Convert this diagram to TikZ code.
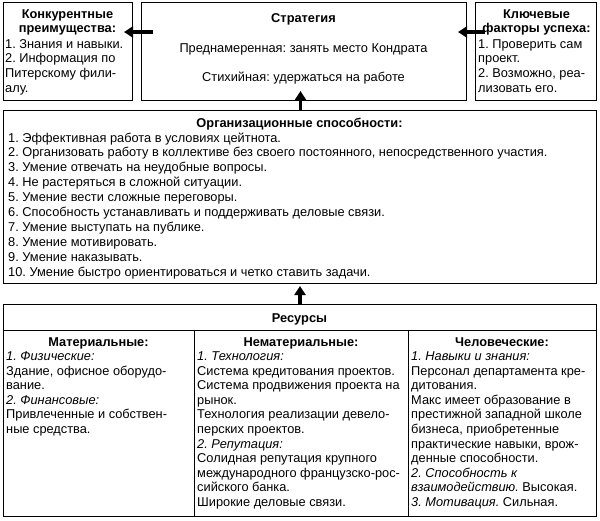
\documentclass[tikz,border=0pt]{standalone}
\usepackage{fontspec}
\setmainfont{Liberation Sans}
\usetikzlibrary{arrows.meta,calc}
\frenchspacing
\begin{document}
\begin{tikzpicture}[x=1pt,y=-1pt,
  box/.style={draw=black,line width=1pt,inner sep=0pt,anchor=north west},
  txt/.style={inner sep=0pt,anchor=base west},
  ttl/.style={inner sep=0pt,anchor=base,font=\fontsize{12.8}{14.9}\selectfont\bfseries},
  fat/.style={line width=3.8pt,-{Triangle[length=9pt,width=11pt]}},
  font=\fontsize{12.8}{14.9}\selectfont]
\path[use as bounding box,fill=white] (0,0) rectangle (600,520);
% boxes
\node[box,minimum width=129pt,minimum height=98pt] (lbox) at (3,2) {};
\node[box,minimum width=325pt,minimum height=98pt] (strat) at (141,2) {};
\node[box,minimum width=121pt,minimum height=98pt] (rbox) at (475,2) {};
\node[box,minimum width=593pt,minimum height=173pt] (org) at (3,110) {};
\node[box,minimum width=593pt,minimum height=26pt] (restitle) at (3,304) {};
\node[box,minimum width=191pt,minimum height=186pt] (c1) at (3,330) {};
\node[box,minimum width=214pt,minimum height=186pt] (c2) at (194,330) {};
\node[box,minimum width=188pt,minimum height=186pt] (c3) at (408,330) {};
% left box
\node[ttl] (lttl) at (67.5,18) {\parbox[t]{128pt}{\centering Конкурентные\\преимущества:}};
\node[txt] (ltxt) at (5,48) {\parbox[t]{128pt}{1. Знания и навыки.\\2. Информация по\\Питерскому фили-\\алу.}};
% strategy
\node[ttl] (sttl) at (303.5,22) {Стратегия};
\node[inner sep=0pt,anchor=base] (s1) at (303.5,52) {Преднамеренная: занять место Кондрата};
\node[inner sep=0pt,anchor=base] (s2) at (303.5,81) {Стихийная: удержаться на работе};
% right box
\node[ttl] (rttl) at (536.5,18) {\parbox[t]{120pt}{\centering Ключевые\\факторы успеха:}};
\node[txt] (rtxt) at (478,48) {\parbox[t]{120pt}{1. Проверить сам\\проект.\\2. Возможно, реа-\\лизовать его.}};
% org
\node[ttl] (ottl) at (299.5,127) {Организационные способности:};
\node[txt] (otxt) at (8,142) {\parbox[t]{585pt}{1. Эффективная работа в условиях цейтнота.\\
2. Организовать работу в коллективе без своего постоянного, непосредственного участия.\\
3. Умение отвечать на неудобные вопросы.\\
4. Не растеряться в сложной ситуации.\\
5. Умение вести сложные переговоры.\\
6. Способность устанавливать и поддерживать деловые связи.\\
7. Умение выступать на публике.\\
8. Умение мотивировать.\\
9. Умение наказывать.\\
10. Умение быстро ориентироваться и четко ставить задачи.}};
% resources
\node[ttl] (rsttl) at (299.5,322) {Ресурсы};
\node[ttl] (c1ttl) at (98.5,346) {Материальные:};
\node[ttl] (c2ttl) at (301,346) {Нематериальные:};
\node[ttl] (c3ttl) at (502,346) {Человеческие:};
\node[txt] (c1txt) at (6,360.5) {\parbox[t]{186pt}{\fontsize{12.8}{14.6}\selectfont
\textit{1. Физические:}\\
Здание, офисное оборудо-\\
вание.\\
\textit{2. Финансовые:}\\
Привлеченные и собствен-\\
ные средства.}};
\node[txt] (c2txt) at (197,360.5) {\parbox[t]{210pt}{\fontsize{12.8}{14.6}\selectfont
\textit{1. Технология:}\\
Система кредитования проектов.\\
Система продвижения проекта на\\
рынок.\\
Технология реализации девело-\\
перских проектов.\\
\textit{2. Репутация:}\\
Солидная репутация крупного\\
международного французско-рос-\\
сийского банка.\\
Широкие деловые связи.}};
\node[txt] (c3txt) at (411,360.5) {\parbox[t]{185pt}{\fontsize{12.8}{14.6}\selectfont
\textit{1. Навыки и знания:}\\
Персонал департамента кре-\\
дитования.\\
Макс имеет образование в\\
престижной западной школе\\
бизнеса, приобретенные\\
практические навыки, врож-\\
денные способности.\\
\textit{2. Способность к}\\
\textit{взаимодействию.} Высокая.\\
\textit{3. Мотивация.} Сильная.}};
% arrows
\draw[fat] ([shift={(12pt,-30pt)}]strat.north west) -- ([shift={(-9pt,-30pt)}]lbox.north east);
\draw[fat] ([shift={(10pt,-30pt)}]rbox.north west) -- ([shift={(-9pt,-30pt)}]strat.north east);
\draw[fat] ($(org.north)+(0.5,0)$) -- ($(strat.south -| org.north)+(0.5,-10)$);
\draw[fat] (restitle.north) -- ($(org.south)+(0,2)$);
\end{tikzpicture}
\end{document}
